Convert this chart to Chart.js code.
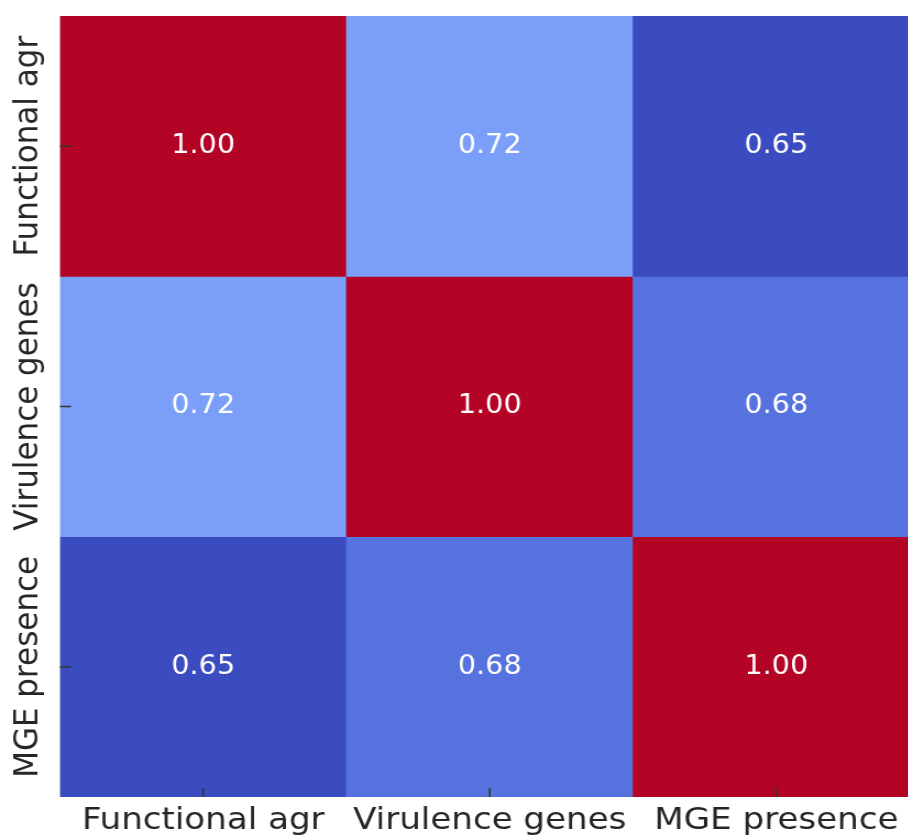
<!DOCTYPE html>
<html>
<head>
<meta charset="utf-8">
<script src="https://cdn.jsdelivr.net/npm/chart.js@4.4.1/dist/chart.umd.min.js"></script>
<style>
  html, body { margin: 0; padding: 0; background: #fff; overflow: hidden; }
  #wrap { width: 846px; height: 836px; transform: scaleX(1.1); transform-origin: 0 0; }
</style>
</head>
<body>
<div id="wrap"><canvas id="heatmap" width="846" height="836"></canvas></div>
<script>
// correlation matrix
const labels = ['Functional agr', 'Virulence genes', 'MGE presence'];
const rowFunctional = [1.00, 0.72, 0.65];
const rowVirulence = [0.72, 1.00, 0.68];
const rowMGE = [0.65, 0.68, 1.00];
const rows = [rowFunctional, rowVirulence, rowMGE];

// coolwarm colours for the values present
const palette = {
  '1.00': '#B40426',
  '0.72': '#7B9FF9',
  '0.68': '#5572DF',
  '0.65': '#3B4CC0'
};
const cellColor = v => palette[v.toFixed(2)];

const datasets = rows.map((vals, r) => ({
  label: labels[r],
  data: vals.map(() => [r, r + 1]),
  values: vals,
  backgroundColor: vals.map(cellColor),
  borderWidth: 0,
  borderSkipped: false,
  barPercentage: 1,
  categoryPercentage: 1,
  grouped: false
}));

const cellText = {
  id: 'cellText',
  afterDatasetsDraw(chart) {
    const ctx = chart.ctx;
    ctx.save();
    ctx.fillStyle = '#ffffff';
    ctx.font = '26px "DejaVu Sans"';
    ctx.textAlign = 'center';
    ctx.textBaseline = 'middle';
    chart.data.datasets.forEach((ds, i) => {
      chart.getDatasetMeta(i).data.forEach((bar, j) => {
        ctx.fillText(ds.values[j].toFixed(2), bar.x, (bar.y + bar.base) / 2);
      });
    });
    ctx.restore();
  },
  afterDraw(chart) {
    const ctx = chart.ctx;
    const xs = chart.scales.x, ys = chart.scales.y;
    const area = chart.chartArea;
    ctx.save();
    ctx.strokeStyle = '#333';
    ctx.lineWidth = 1.5;
    // tick marks
    xs.ticks.forEach((t, i) => {
      const px = xs.getPixelForTick(i);
      ctx.beginPath();
      ctx.moveTo(px, area.bottom);
      ctx.lineTo(px, area.bottom - 9);
      ctx.stroke();
    });
    ys.ticks.forEach((t, i) => {
      const py = ys.getPixelForTick(i);
      ctx.beginPath();
      ctx.moveTo(area.left, py);
      ctx.lineTo(area.left + 10, py);
      ctx.stroke();
    });
    // rotated y labels
    ctx.fillStyle = '#262626';
    ctx.font = '31px "DejaVu Sans"';
    ctx.textAlign = 'center';
    ctx.textBaseline = 'middle';
    ys.ticks.forEach((t, i) => {
      const py = ys.getPixelForTick(i);
      ctx.save();
      ctx.translate(26, py);
      ctx.rotate(-Math.PI / 2);
      ctx.fillText(labels[i], 0, 0);
      ctx.restore();
    });
    ctx.restore();
  }
};

new Chart(document.getElementById('heatmap').getContext('2d'), {
  type: 'bar',
  data: { labels: labels, datasets: datasets },
  options: {
    responsive: false,
    animation: false,
    layout: { padding: { top: 16, right: 10, left: 0, bottom: 0 } },
    plugins: { legend: { display: false }, tooltip: { enabled: false } },
    scales: {
      x: {
        type: 'category',
        offset: true,
        grid: { display: false },
        border: { display: false },
        ticks: {
          color: '#262626',
          font: { family: 'DejaVu Sans', size: 31 },
          padding: -3,
          maxRotation: 0
        },
        afterFit: s => { s.height = 39; }
      },
      y: {
        type: 'linear',
        min: 0,
        max: 3,
        reverse: true,
        grid: { display: false },
        border: { display: false },
        ticks: { display: false },
        afterBuildTicks: s => { s.ticks = labels.map((_, i) => ({ value: i + 0.5 })); },
        afterFit: s => { s.width = 54.5; }
      }
    }
  },
  plugins: [cellText]
});
</script>
</body>
</html>
